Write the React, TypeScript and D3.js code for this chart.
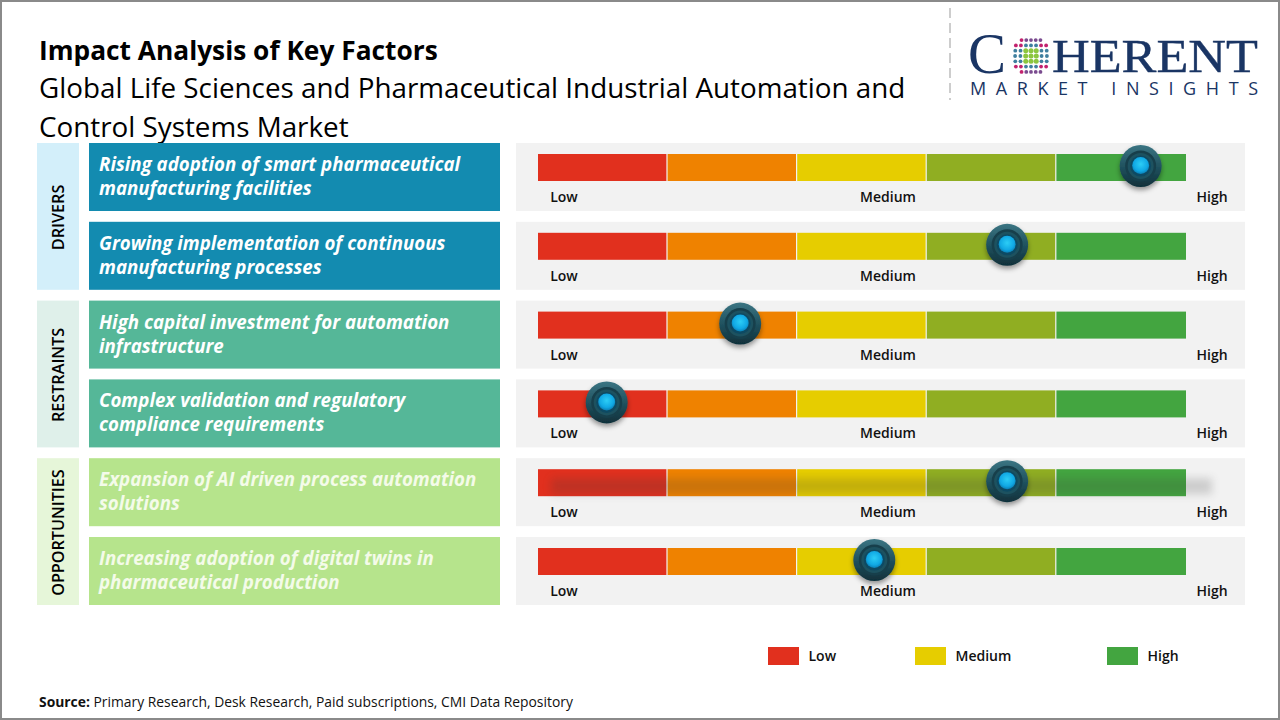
import React from "react";
import * as d3 from "d3";

const factors = [
  ["Rising adoption of smart pharmaceutical", "manufacturing facilities"],
  ["Growing implementation of continuous", "manufacturing processes"],
  ["High capital investment for automation", "infrastructure"],
  ["Complex validation and regulatory", "compliance requirements"],
  ["Expansion of AI driven process automation", "solutions"],
  ["Increasing adoption of digital twins in", "pharmaceutical production"],
];
const impact = [93, 72.4, 31.2, 10.6, 72.4, 51.9];
const groups = ["DRIVERS", "RESTRAINTS", "OPPORTUNITIES"];
const groupFills = ["#d3effa", "#dff0ea", "#e6f6d9"];
const labelFills = ["#138bb0", "#55b798", "#b6e48c"];
const segmentColors = ["#e1301e", "#ef8200", "#e6cd00", "#90ae22", "#43a540"];
const levelLabels = ["Low", "Medium", "High"];
const legendColors = ["#e1301e", "#e6cd00", "#43a540"];

const font = "'Open Sans', sans-serif";
const rowHeight = 68;
const navy = "#1a3564";

const rowIds = d3.range(factors.length);
const y = d3.scalePoint<number>().domain(rowIds).range([143, 537]);
const x = d3.scaleLinear().domain([0, 100]).range([538, 1186]);
const seg = d3
  .scaleBand<number>()
  .domain(d3.range(segmentColors.length))
  .range([538, 1186]);
const levelX = d3.scalePoint<string>().domain(levelLabels).range([564, 1212]);
const legendX = d3.scaleOrdinal<string, number>().domain(levelLabels).range([768, 915, 1107]);

// logo globe, a small grid of dots masked to a circle
const globeCols = d3.range(-3, 4);
const globeRows = d3.range(-3, 4);
function globeColor(c: number, r: number) {
  if (Math.abs(c) <= 1 && Math.abs(r) <= 1) return "#8cc63f";
  if (c <= -2 && r !== 0 && Math.abs(r) >= 2) return "#c2226e";
  if (Math.abs(r) === 3) return "#7a4b8f";
  if (c >= 2 && Math.abs(r) >= 2) return "#c2226e";
  return "#3f7f9f";
}

function Logo() {
  return (
    <g>
      <line x1={950} x2={950} y1={8} y2={100} stroke="#bdbdbd" strokeWidth={1.5} strokeDasharray="10 5" />
      <text x={968} y={73} fontFamily="'Liberation Serif', serif" fontSize={57} fill={navy}>
        C
      </text>
      <g transform="translate(1031,56)">
        {globeRows.map((r) =>
          globeCols
            .filter((c) => Math.hypot(c, r) < 3.7)
            .map((c) => (
              <circle
                key={c + "_" + r}
                cx={c * 5.3 * (1 - 0.012 * r * r)}
                cy={r * 5.3}
                r={Math.abs(c) <= 1 && Math.abs(r) <= 1 ? 2.5 : 1.9}
                fill={globeColor(c, r)}
              />
            ))
        )}
      </g>
      <text
        x={1052}
        y={72}
        fontFamily="'Liberation Serif', serif"
        fontSize={47}
        fill={navy}
        stroke={navy}
        strokeWidth={0.4}
        textLength={206}
        lengthAdjust="spacingAndGlyphs"
      >
        HERENT
      </text>
      <text
        x={970}
        y={95}
        fontFamily={font}
        fontSize={18}
        fill={navy}
        textLength={288}
        lengthAdjust="spacing"
      >
        MARKET INSIGHTS
      </text>
    </g>
  );
}

function Knob({ cx, cy }: { cx: number; cy: number }) {
  return (
    <g>
      <g filter="url(#knobShadow)">
        <circle cx={cx} cy={cy} r={21} fill="url(#knobOuter)" />
      </g>
      <circle cx={cx} cy={cy} r={15.5} fill="#173f4b" />
      <circle cx={cx} cy={cy} r={13} fill="#1d5260" />
      <circle cx={cx} cy={cy} r={10.5} fill="#0d4a63" />
      <circle cx={cx} cy={cy - 0.5} r={8.5} fill="url(#knobCore)" />
    </g>
  );
}

export default function App() {
  return (
    <svg
      width={1280}
      height={720}
      viewBox="0 0 1280 720"
      style={{ position: "absolute", left: 0, top: 0, background: "#fff" }}
      fontFamily={font}
    >
      <defs>
        <linearGradient id="knobOuter" x1="0" y1="0" x2="0" y2="1">
          <stop offset="0%" stopColor="#3b7583" />
          <stop offset="55%" stopColor="#1e4f5c" />
          <stop offset="100%" stopColor="#10303a" />
        </linearGradient>
        <radialGradient id="knobCore" cx="50%" cy="42%" r="58%">
          <stop offset="0%" stopColor="#2ccdf6" />
          <stop offset="70%" stopColor="#10a8e4" />
          <stop offset="100%" stopColor="#0b7fb4" />
        </radialGradient>
        <filter id="knobShadow" x="-40%" y="-40%" width="180%" height="190%">
          <feDropShadow dx={0} dy={3} stdDeviation={2.5} floodColor="#000" floodOpacity={0.4} />
        </filter>
        <filter id="smear" x="-5%" y="-100%" width="110%" height="300%">
          <feGaussianBlur stdDeviation={4} />
        </filter>
      </defs>

      <rect x={1} y={1} width={1278} height={718} fill="#fff" stroke="#8a8a8a" strokeWidth={2} />

      <text x={39} y={60} fontSize={26.3} fontWeight={700} fill="#000">
        Impact Analysis of Key Factors
      </text>
      <text x={39} y={98} fontSize={27.8} fill="#000">
        Global Life Sciences and Pharmaceutical Industrial Automation and
      </text>
      <text x={39} y={137} fontSize={27.8} fill="#000">
        Control Systems Market
      </text>

      <Logo />

      {groups.map((g, i) => {
        const top = y(i * 2)!;
        const bottom = y(i * 2 + 1)! + rowHeight;
        const mid = (top + bottom) / 2;
        return (
          <g key={g}>
            <rect x={37} y={top} width={42} height={bottom - top} fill={groupFills[i]} />
            <text
              transform={`translate(58,${mid + 1}) rotate(-90)`}
              textAnchor="middle"
              dominantBaseline="central"
              fontSize={16.2}
              fontWeight={600}
              fill="#000"
            >
              {g}
            </text>
          </g>
        );
      })}

      {rowIds.map((i) => {
        const top = y(i)!;
        return (
          <g key={i}>
            <rect x={89} y={top} width={411} height={rowHeight} fill={labelFills[Math.floor(i / 2)]} />
            {factors[i].map((line, k) => (
              <text
                key={k}
                x={99}
                y={top + 28 + k * 24}
                fontSize={18.7}
                fontWeight={700}
                fontStyle="italic"
                fill={i >= 4 ? "#f4fbe9" : "#fff"}
              >
                {line}
              </text>
            ))}

            <rect x={516} y={top} width={729} height={rowHeight} fill="#f2f2f2" />
            {segmentColors.map((c, k) => (
              <rect
                key={c}
                x={seg(k)!}
                y={top + 11}
                width={seg.bandwidth() - (k < segmentColors.length - 1 ? 1.2 : 0)}
                height={27}
                fill={c}
              />
            ))}
            {i === 4 && (
              <rect
                x={x(2)}
                y={top + 20}
                width={x(104) - x(2)}
                height={16}
                fill="#3a3a3a"
                opacity={0.2}
                filter="url(#smear)"
              />
            )}
            {levelLabels.map((l) => (
              <text
                key={l}
                x={levelX(l)!}
                y={top + 59}
                textAnchor="middle"
                fontSize={14}
                fontWeight={600}
                fill="#111"
              >
                {l}
              </text>
            ))}
            <Knob cx={x(impact[i])} cy={top + 23} />
          </g>
        );
      })}

      {levelLabels.map((l, i) => (
        <g key={l}>
          <rect x={legendX(l)} y={647} width={31} height={18} fill={legendColors[i]} />
          <text x={legendX(l) + 40.5} y={661} fontSize={14} fontWeight={600} fill="#111">
            {l}
          </text>
        </g>
      ))}

      <text x={39} y={707} fontSize={13.87} fill="#111">
        <tspan fontWeight={700}>Source: </tspan>
        Primary Research, Desk Research, Paid subscriptions, CMI Data Repository
      </text>
    </svg>
  );
}
